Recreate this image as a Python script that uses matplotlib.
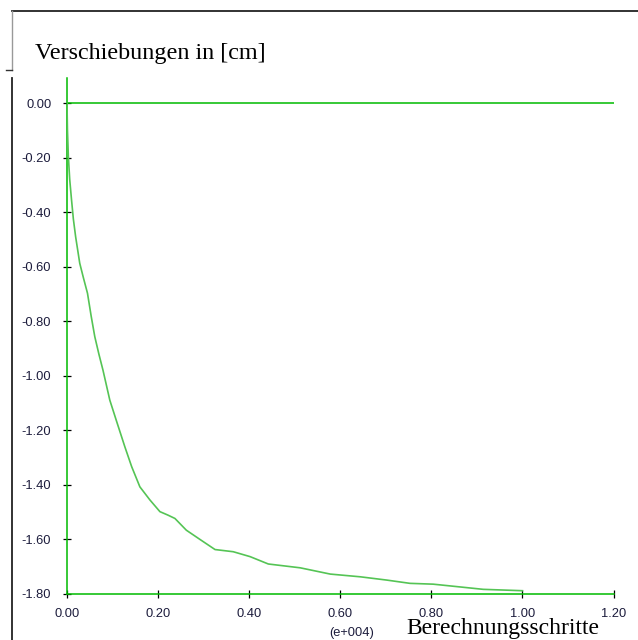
import matplotlib
matplotlib.use("Agg")
import matplotlib.pyplot as plt
from matplotlib.lines import Line2D

# Verschiebungsverlauf (x in e+004 Berechnungsschritten, y in cm)
schritte = [0.000, 0.001, 0.003, 0.006, 0.010, 0.014, 0.019, 0.028, 0.036,
            0.045, 0.053, 0.061, 0.070, 0.079, 0.094, 0.108, 0.127, 0.142,
            0.160, 0.182, 0.204, 0.222, 0.237, 0.262, 0.292, 0.325, 0.365,
            0.402, 0.442, 0.512, 0.578, 0.644, 0.702, 0.753, 0.804, 0.862,
            0.914, 1.000]
verschiebung = [0.000, -0.098, -0.196, -0.280, -0.355, -0.425, -0.490, -0.587,
                -0.640, -0.697, -0.780, -0.856, -0.920, -0.979, -1.089, -1.162,
                -1.260, -1.333, -1.407, -1.455, -1.498, -1.511, -1.523, -1.566,
                -1.600, -1.637, -1.645, -1.663, -1.690, -1.704, -1.727, -1.737,
                -1.749, -1.761, -1.764, -1.774, -1.783, -1.788]

x_ticks = [0.0, 0.2, 0.4, 0.6, 0.8, 1.0, 1.2]
y_ticks = [0.0, -0.2, -0.4, -0.6, -0.8, -1.0, -1.2, -1.4, -1.6, -1.8]

gruen = "#00bb00"
kurve = "#55c455"
schrift = "#1c1c3c"

fig = plt.figure(figsize=(6.38, 6.40), dpi=100)
ax = fig.add_axes([0.105, 0.0719, 0.8567, 0.806])

ax.axhline(0.0, color=gruen, lw=1.1, zorder=2)
ax.plot(schritte, verschiebung, color=kurve, lw=1.2, zorder=3)

ax.set_xlim(0, 1.2)
ax.set_ylim(-1.8, 0.092)
ax.set_xticks(x_ticks)
ax.set_yticks(y_ticks)
ax.set_xticklabels([f"{v:.2f}" for v in x_ticks])
ax.set_yticklabels([f"{v:.2f}" for v in y_ticks])

for s in ["top", "right"]:
    ax.spines[s].set_visible(False)
for s in ["left", "bottom"]:
    ax.spines[s].set_color(gruen)
    ax.spines[s].set_linewidth(1.1)

ax.tick_params(direction="inout", length=5.5, width=0.9, color="black",
               labelsize=9.3, labelcolor=schrift)
ax.tick_params(axis="x", pad=7)
ax.tick_params(axis="y", pad=8.5)
for lab in ax.get_xticklabels() + ax.get_yticklabels():
    lab.set_family("Liberation Sans")

# Beschriftungen
fig.text(35 / 638, 1 - 59 / 640, "Verschiebungen in [cm]", family="Liberation Serif",
         fontsize=17.4, color="black", va="baseline", ha="left")
fig.text(406 / 638, 1 - 634 / 640, "Berechnungsschritte", family="Liberation Serif",
         fontsize=17, color="black", va="baseline", ha="left")
fig.text(352 / 638, 1 - 633 / 640, "(e+004)", family="Liberation Sans",
         fontsize=9.3, color=schrift, va="center", ha="center")

# Rahmen
W, H = 638, 640
def px_line(xs, ys, c, lw):
    fig.add_artist(Line2D([x / W for x in xs], [1 - y / H for y in ys],
                          color=c, lw=lw, transform=fig.transFigure))

px_line([12, 638], [11, 11], "#222222", 1.3)
px_line([12, 12], [11, 70], "#999999", 1.0)
px_line([6, 12], [70, 70], "#333333", 1.0)
px_line([12, 12], [78, 640], "#222222", 1.3)

fig.savefig("out.png", dpi=100)
